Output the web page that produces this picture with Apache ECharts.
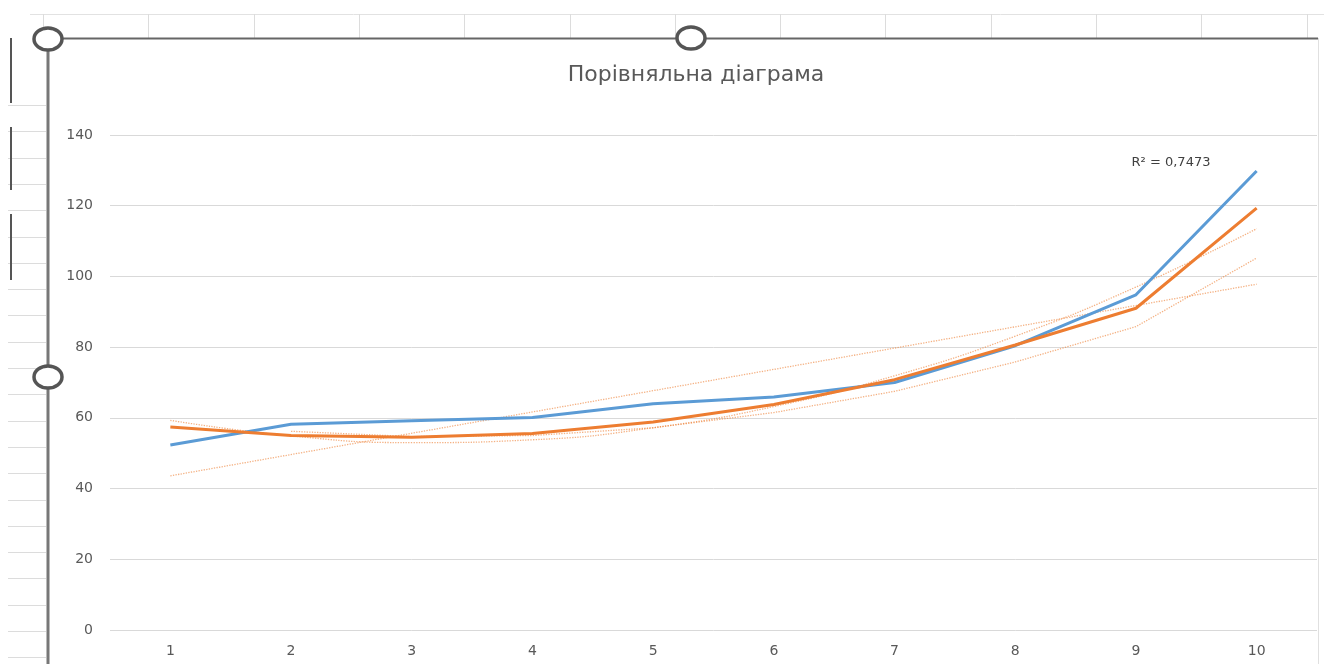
<!DOCTYPE html>
<html>
<head>
<meta charset="utf-8">
<script src="https://cdn.jsdelivr.net/npm/echarts@6/dist/echarts.min.js"></script>
<style>
html,body{margin:0;padding:0;background:#fff;}
#chart{width:1324px;height:664px;}
</style>
</head>
<body>
<div id="chart"></div>
<script>
// ---- data ----
const categories = ['1','2','3','4','5','6','7','8','9','10'];
const seriesBlue = [52.3, 58.2, 59.2, 60.1, 64.0, 65.9, 70.0, 80.4, 94.8, 129.8];
const seriesOrange = [57.4, 55.0, 54.5, 55.6, 58.8, 63.8, 70.8, 80.6, 91.0, 119.3];
// trend lines (dotted, orange)
const linearTrendEnds = [43.6, 97.8];          // values at category 1 and category 10
const polyTrend = [59.3, 54.9, 53.0, 53.8, 57.2, 63.2, 71.9, 83.1, 97.0, 113.5];
const movingAvgTrend = ['-', 56.2, 54.7, 55.0, 57.2, 61.5, 67.5, 75.8, 85.8, 105.2];
const yTicks = { min: 0, max: 140, interval: 20 };
const titleText = 'Порівняльна діаграма';
const r2Text = 'R² = 0,7473';

const BLUE = '#5B9BD5', ORANGE = '#ED7D31', TXT = '#595959', GRID = '#D9D9D9';
const FONT = 'DejaVu Sans';

// ---- decorative spreadsheet / selection frame (not data) ----
const deco = [];
deco.push({type:'line', shape:{x1:30,y1:14.5,x2:1324,y2:14.5}, style:{stroke:'#E2E2E2',lineWidth:1}, z:1});
for (let i = 0; i < 13; i++) {
  const x = Math.round(43 + i * 105.3) + 0.5;
  deco.push({type:'line', shape:{x1:x,y1:14,x2:x,y2:38}, style:{stroke:'#DCDCDC',lineWidth:1}, z:1});
}
for (let i = 0; i < 22; i++) {
  const y = Math.round(105 + i * 26.3) + 0.5;
  deco.push({type:'line', shape:{x1:8,y1:y,x2:46,y2:y}, style:{stroke:'#DCDCDC',lineWidth:1}, z:1});
}
[[38,103],[127,190],[214,280]].forEach(function(s){
  deco.push({type:'line', shape:{x1:11,y1:s[0],x2:11,y2:s[1]}, style:{stroke:'#555',lineWidth:2}, z:1});
});
deco.push({type:'line', shape:{x1:1318.5,y1:38,x2:1318.5,y2:664}, style:{stroke:'#E0E0E0',lineWidth:1}, z:1});
deco.push({type:'line', shape:{x1:48,y1:38.5,x2:1318,y2:38.5}, style:{stroke:'#666',lineWidth:2}, z:5});
deco.push({type:'line', shape:{x1:48,y1:38,x2:48,y2:664}, style:{stroke:'#777',lineWidth:3}, z:5});
[[48,39],[691,38],[48,377]].forEach(function(c){
  deco.push({type:'ellipse', shape:{cx:c[0],cy:c[1],rx:14,ry:11}, style:{fill:'#fff',stroke:'#555',lineWidth:3.5}, z:6});
});
deco.push({type:'text', x:1171, y:163, style:{text:r2Text, fill:'#404040', font:'13px "DejaVu Sans"', align:'center', verticalAlign:'middle'}, z:6});

const chart = echarts.init(document.getElementById('chart'), null, {renderer:'canvas'});
chart.setOption({
  animation: false,
  backgroundColor: '#fff',
  title: {
    text: titleText, left: 691, top: 59, textAlign: 'center',
    textStyle: { color: TXT, fontSize: 22, fontWeight: 'normal', fontFamily: FONT }
  },
  grid: { left: 110, right: 7, top: 135, bottom: 34, containLabel: false },
  xAxis: {
    type: 'category', data: categories, boundaryGap: true,
    axisLine: { show: false }, axisTick: { show: false },
    axisLabel: { color: TXT, fontSize: 14, fontFamily: FONT, margin: 14 },
    splitLine: { show: false }
  },
  yAxis: {
    type: 'value', min: yTicks.min, max: yTicks.max, interval: yTicks.interval,
    axisLine: { show: false }, axisTick: { show: false },
    axisLabel: { color: TXT, fontSize: 14, fontFamily: FONT, margin: 17 },
    splitLine: { lineStyle: { color: GRID, width: 1 } }
  },
  series: [
    { name: 'trend-linear', type: 'line', symbol: 'none', silent: true,
      data: [[0, linearTrendEnds[0]], [categories.length - 1, linearTrendEnds[1]]],
      lineStyle: { color: ORANGE, width: 1.3, type: 'dotted', opacity: 0.6 }, z: 2 },
    { name: 'trend-poly', type: 'line', symbol: 'none', silent: true, smooth: true,
      data: polyTrend,
      lineStyle: { color: ORANGE, width: 1.3, type: 'dotted', opacity: 0.6 }, z: 2 },
    { name: 'trend-ma', type: 'line', symbol: 'none', silent: true,
      data: movingAvgTrend,
      lineStyle: { color: ORANGE, width: 1.3, type: 'dotted', opacity: 0.6 }, z: 2 },
    { name: 'Ряд1', type: 'line', symbol: 'none', data: seriesBlue,
      lineStyle: { color: BLUE, width: 3 }, itemStyle: { color: BLUE }, z: 3 },
    { name: 'Ряд2', type: 'line', symbol: 'none', data: seriesOrange,
      lineStyle: { color: ORANGE, width: 3 }, itemStyle: { color: ORANGE }, z: 4 }
  ],
  graphic: deco
});
</script>
</body>
</html>
